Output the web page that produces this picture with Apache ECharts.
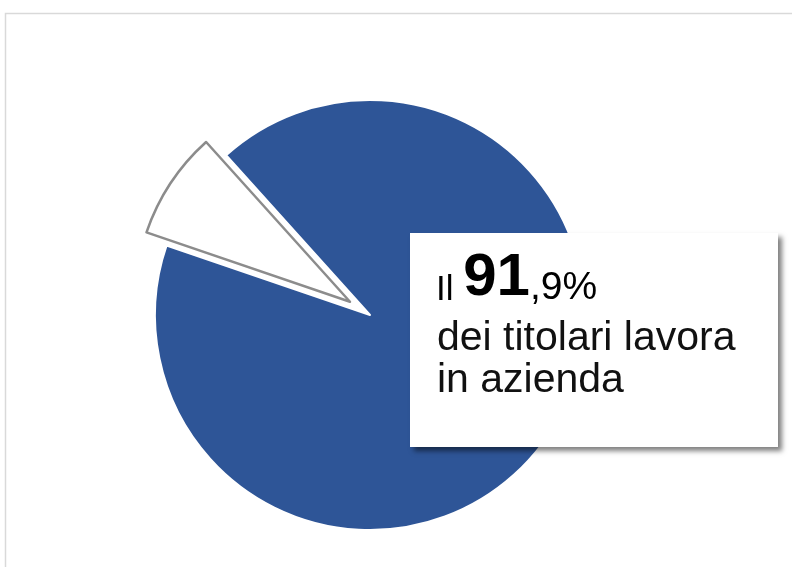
<!DOCTYPE html>
<html><head><meta charset="utf-8">
<script src="https://cdn.jsdelivr.net/npm/echarts@6/dist/echarts.min.js"></script>
<style>html,body{margin:0;padding:0;background:#fff}#c{width:792px;height:567px}</style>
</head><body><div id="c"></div>
<script>
const categories = ['Lavora in azienda', 'Non lavora in azienda'];
const values = [91.9, 8.1];
const colors = ['#2E5597', '#FFFFFF'];

const chart = echarts.init(document.getElementById('c'), null, {renderer: 'canvas'});
chart.setOption({
  backgroundColor: '#ffffff',
  animation: false,
  series: [{
    type: 'pie',
    center: [370, 315],
    radius: [0, 215],
    startAngle: 132,
    selectedMode: 'single',
    selectedOffset: 24,
    label: {show: false},
    labelLine: {show: false},
    emphasis: {disabled: true},
    data: categories.map((c, i) => ({
      name: c,
      value: values[i],
      selected: i === 1,
      itemStyle: i === 1
        ? {color: colors[i], borderColor: '#8C8C8C', borderWidth: 2.5}
        : {color: colors[i], borderColor: '#ffffff', borderWidth: 2}
    }))
  }],
  graphic: [
    {type: 'rect', shape: {x: 5.5, y: 13.5, width: 820, height: 620},
     style: {fill: 'none', stroke: '#D9D9D9', lineWidth: 1.5}, z: 1},
    {type: 'rect', shape: {x: 410, y: 233, width: 368, height: 214},
     style: {fill: '#ffffff', shadowBlur: 5, shadowOffsetX: 4, shadowOffsetY: 4, shadowColor: 'rgba(0,0,0,0.5)'}, z: 10},
    {type: 'text', x: 436, y: 308, z: 11,
     style: {
       text: '{a|Il }{b|91}{c|,9%}',
       verticalAlign: 'bottom',
       rich: {
         a: {fontFamily: 'Liberation Sans', fontSize: 35, fill: '#000', verticalAlign: 'bottom', lineHeight: 60},
         b: {fontFamily: 'Liberation Sans', fontWeight: 'bold', fontSize: 60, fill: '#000', verticalAlign: 'bottom', lineHeight: 60},
         c: {fontFamily: 'Liberation Sans', fontSize: 39, fill: '#000', verticalAlign: 'bottom', lineHeight: 60}
       }
     }},
    {type: 'text', x: 437, y: 339, z: 11,
     style: {text: 'dei titolari lavora', fontFamily: 'Liberation Sans', fontSize: 41, fill: '#111', verticalAlign: 'middle'}},
    {type: 'text', x: 437, y: 381, z: 11,
     style: {text: 'in azienda', fontFamily: 'Liberation Sans', fontSize: 41, fill: '#111', verticalAlign: 'middle'}}
  ]
});
</script></body></html>
